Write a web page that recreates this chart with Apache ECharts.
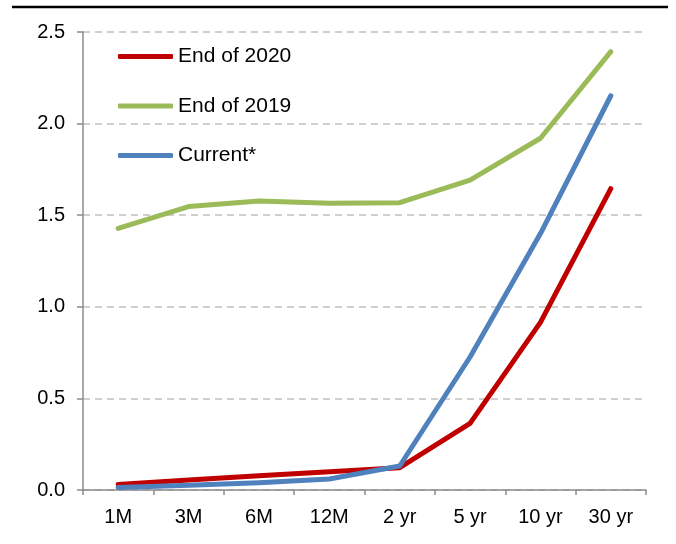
<!DOCTYPE html>
<html>
<head>
<meta charset="utf-8">
<script src="https://cdn.jsdelivr.net/npm/echarts@6/dist/echarts.min.js"></script>
<style>
    html, body { margin: 0; padding: 0; background: #fff; }
    #chart { width: 676px; height: 544px; }
</style>
</head>
<body>
<div id="chart"></div>
<script>
// tenors on the x axis
const categories = ['1M', '3M', '6M', '12M', '2 yr', '5 yr', '10 yr', '30 yr']
const legendNames = ['End of 2020', 'End of 2019', 'Current*']
// yields, %
const end2020 = [0.03, 0.055, 0.078, 0.10, 0.122, 0.364, 0.915, 1.645]
const end2019 = [1.428, 1.547, 1.577, 1.565, 1.568, 1.692, 1.92, 2.393]
const current = [0.013, 0.026, 0.04, 0.06, 0.131, 0.726, 1.40, 2.152]

const font = 'Liberation Sans, Arial, sans-serif'
const axisGray = '#8c8c8c'

function lineSeries(name, color, data) {
    return {
        name: name,
        type: 'line',
        data: data,
        color: color,
        symbol: 'none',
        lineStyle: { width: 5, color: color, cap: 'round', join: 'round' }
    }
}

const chart = echarts.init(document.getElementById('chart'))
const options = {
    animation: false,
    grid: { left: 83, right: 30, top: 32, bottom: 54 },
    legend: {
        orient: 'vertical',
        left: 113,
        top: 41,
        itemWidth: 55,
        itemHeight: 5,
        itemGap: 28.5,
        icon: 'roundRect',
        textStyle: { fontFamily: font, fontSize: 21, color: '#000' },
        data: legendNames
    },
    graphic: [
        {
            type: 'line',
            shape: { x1: 12, y1: 7, x2: 668, y2: 7 },
            style: { stroke: '#000', lineWidth: 2.5 }
        }
    ],
    xAxis: {
        type: 'category',
        data: categories,
        axisLine: { lineStyle: { color: axisGray, width: 1.5 } },
        axisTick: { show: true, length: 5, lineStyle: { color: axisGray, width: 1.5 } },
        axisLabel: { fontFamily: font, fontSize: 20, color: '#000', margin: 17 }
    },
    yAxis: {
        type: 'value',
        min: 0,
        max: 2.5,
        interval: 0.5,
        axisLine: { show: true, lineStyle: { color: axisGray, width: 1.5 } },
        axisTick: { show: true, length: 6, lineStyle: { color: axisGray, width: 1.5 } },
        axisLabel: {
            fontFamily: font, fontSize: 20, color: '#000', margin: 18,
            formatter: v => v.toFixed(1)
        },
        splitLine: { show: true, lineStyle: { color: '#c0c0c0', type: [7, 5], width: 1.5 } }
    },
    series: [
        lineSeries(legendNames[0], '#c00000', end2020),
        lineSeries(legendNames[1], '#9bbb59', end2019),
        lineSeries(legendNames[2], '#4f81bd', current)
    ]
}
chart.setOption(options)
</script>
</body>
</html>
